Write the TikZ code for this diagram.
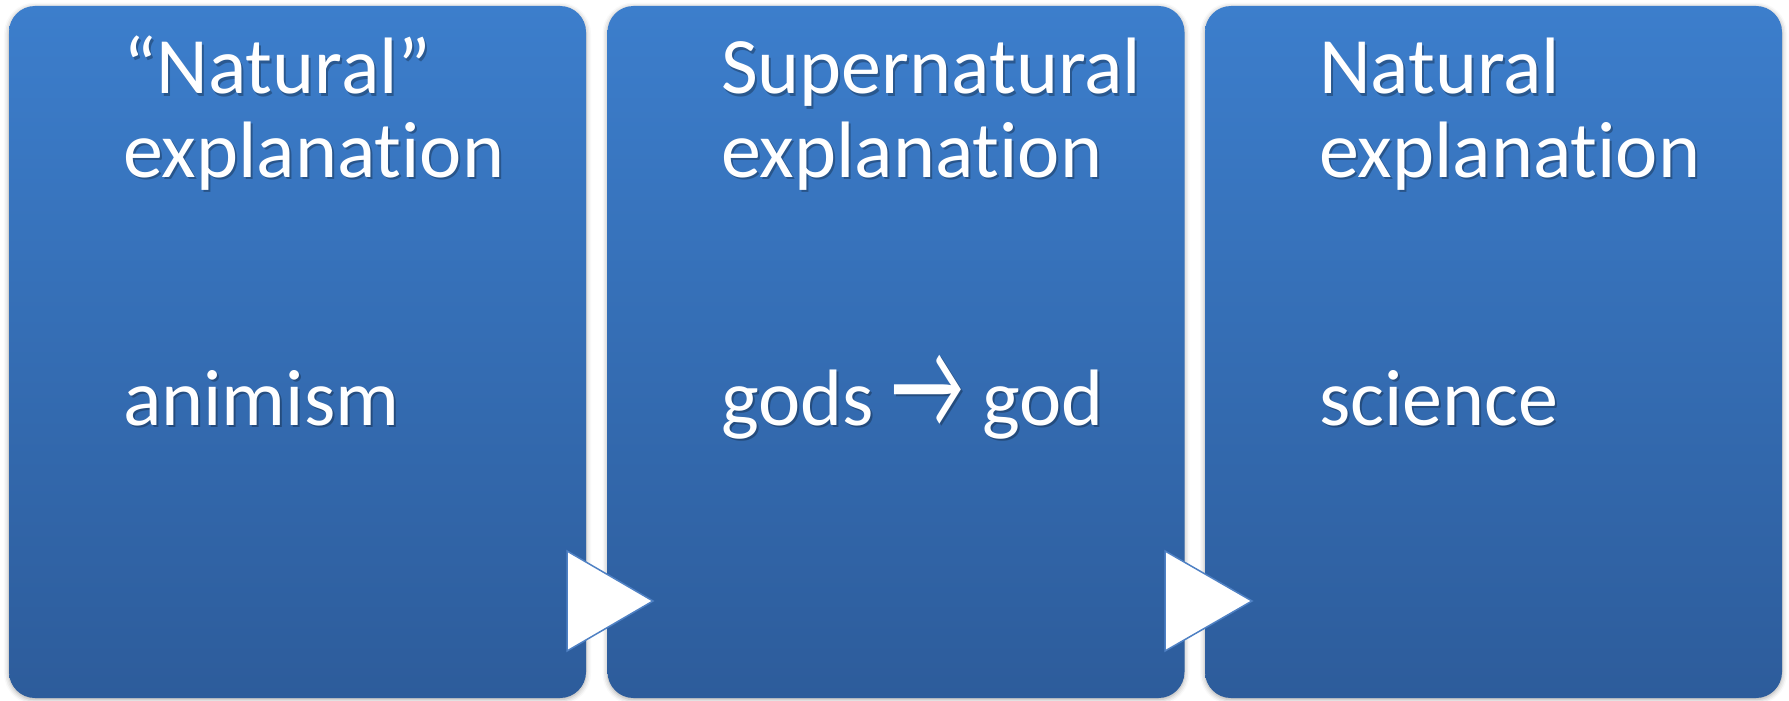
\documentclass[tikz,border=0pt]{standalone}
\usepackage{fontspec}
\setmainfont{Carlito}[Ligatures={NoCommon}]
\usetikzlibrary{shadows.blur}
\definecolor{boxtop}{RGB}{60,126,204}
\definecolor{boxbot}{RGB}{45,92,155}
\definecolor{triedge}{RGB}{79,129,196}
\newcommand{\ptext}[4]{%
  \node[txt, text=black, opacity=0.28] (#1s) at (#2+2,#3+2.5) {#4};
  \node[txt] (#1) at (#2,#3) {#4};}
\newcommand{\bigarrow}{\raisebox{-3pt}{\scalebox{1.0}[1.6]{→}}}
\begin{document}
\begin{tikzpicture}[x=1pt,y=-1pt,
  panel/.style={rounded corners=26pt, top color=boxtop, bottom color=boxbot,
    draw=none, minimum width=577pt, minimum height=692pt, inner sep=0pt,
    blur shadow={shadow xshift=0pt, shadow yshift=-1.5pt, shadow blur radius=5pt, shadow opacity=35}},
  txt/.style={anchor=base west, inner sep=0pt, text=white, font=\fontsize{80}{83}\selectfont},
  tri/.style={fill=white, draw=triedge, line width=1.5pt, line join=miter}]
\useasboundingbox (0,0) rectangle (1789,701);
\node[panel] (b1) at (297.5,352) {};
\node[panel] (b2) at (896,352) {};
\node[panel] (b3) at (1493.5,352) {};
\ptext{t1a}{123}{94}{“Natural”}
\ptext{t1b}{123}{177}{explanation}
\ptext{t1c}{123}{425}{animism}
\ptext{t2a}{721}{94}{Supernatural}
\ptext{t2b}{721}{177}{explanation}
\ptext{t2c}{721}{425}{gods \bigarrow{} god}
\ptext{t3a}{1319}{94}{Natural}
\ptext{t3b}{1319}{177}{explanation}
\ptext{t3c}{1319}{425}{science}
\draw[tri] (567,551) -- (567,651) -- (653,601) -- cycle;
\draw[tri] (1165,551) -- (1165,651) -- (1252,601) -- cycle;
\end{tikzpicture}
\end{document}
